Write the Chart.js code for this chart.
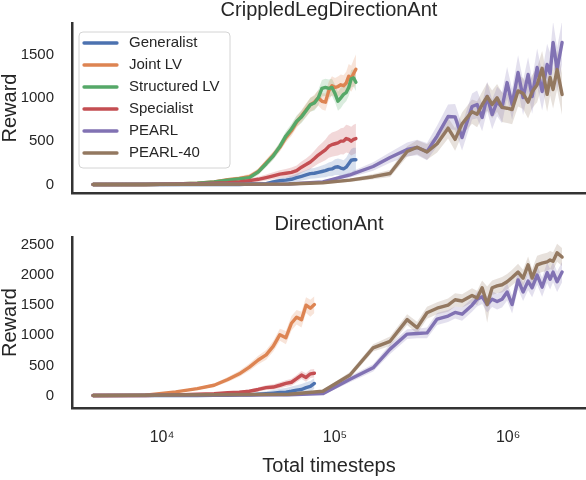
<!DOCTYPE html>
<html>
<head>
<meta charset="utf-8">
<script src="https://cdn.jsdelivr.net/npm/chart.js@4.4.1/dist/chart.umd.min.js"></script>
<style>
  html, body { margin: 0; padding: 0; background: #fff; }
  #wrap { position: relative; width: 586px; height: 480px; }
  canvas { position: absolute; left: 0; }
  #crippled { top: 0; }
  #direction { top: 205px; }
</style>
</head>
<body>
<div id="wrap">
  <canvas id="crippled" width="586" height="205"></canvas>
  <canvas id="direction" width="586" height="275"></canvas>
</div>
<script>
// series names + seaborn "deep" colours
const seriesNames = ["Generalist", "Joint LV", "Structured LV", "Specialist", "PEARL", "PEARL-40"];
const seriesColors = ["#4C72B0", "#DD8452", "#55A868", "#C44E52", "#8172B3", "#937860"];

const xTicks = [1e4, 1e5, 1e6];
const yTicksCrippled = [0, 500, 1000, 1500];
const yTicksDirection = [0, 500, 1000, 1500, 2000, 2500];

// timesteps for the fast methods (Generalist / Joint LV / Structured LV / Specialist)
const stepsFast = [4000, 8000, 12000, 16000, 20000, 24000, 28000, 32000, 36000, 40000, 44000,
  48000, 52000, 56000, 60000, 64000, 68000, 72000, 76000, 80000, 84000, 88000, 92000, 96000,
  100000, 104000, 108000, 112000, 116000, 120000, 124000, 128000, 132000];
const stepsFastDir = [4000, 8000, 12000, 16000, 20000, 24000, 28000, 32000, 36000, 40000, 44000,
  48000, 52000, 56000, 60000, 64000, 68000, 72000, 76000];
// timesteps for PEARL runs
const stepsPearl = [4000, 54000, 85000, 122000, 166000, 208000, 261000, 298000, 340000, 389000,
  450000, 494000, 542000, 619000, 662000, 708000, 757000, 809000, 864000, 923000, 987000,
  1055000, 1142000, 1221000, 1305000, 1377000, 1472000, 1573000, 1681000, 1749000, 1820000,
  1920000, 2052000];

// CrippledLegDirectionAnt: mean reward and half-width of the shaded band
const genCrip = [0, 0, 0, 0, 0, 0, 0, 5, 5, 10, 30, 45, 50, 60, 80, 95, 110, 125, 130, 140, 150, 160, 175, 180, 200, 205, 190, 180, 200, 240, 280, 285, 285];
const genCripSd = [0, 0, 0, 0, 0, 0, 5, 10, 15, 20, 25, 30, 35, 40, 45, 50, 55, 60, 60, 65, 70, 75, 80, 85, 90, 95, 100, 100, 110, 120, 130, 140, 140];
const jointCrip = [0, 0, 5, 15, 30, 55, 70, 90, 150, 250, 340, 430, 540, 620, 720, 790, 860, 920, 950, 1000, 960, 950, 1080, 1140, 1120, 1130, 1150, 1140, 1170, 1250, 1220, 1280, 1330];
const jointCripSd = [0, 0, 5, 10, 15, 20, 25, 30, 35, 40, 45, 50, 55, 60, 65, 70, 75, 80, 85, 90, 95, 100, 105, 110, 110, 115, 120, 120, 130, 140, 150, 160, 170];
const structCrip = [0, 0, 5, 15, 30, 50, 65, 80, 145, 240, 330, 440, 560, 640, 730, 780, 850, 920, 940, 1000, 1110, 1120, 1110, 1120, 1050, 960, 1000, 1040, 1060, 1120, 1220, 1230, 1180];
const structCripSd = [0, 0, 5, 10, 15, 20, 25, 30, 35, 40, 45, 50, 55, 60, 65, 70, 75, 80, 85, 90, 95, 100, 100, 100, 100, 110, 120, 110, 100, 100, 100, 100, 100];
const specCrip = [0, 0, 5, 10, 15, 20, 30, 45, 60, 80, 100, 120, 130, 140, 160, 200, 230, 260, 300, 340, 370, 400, 440, 460, 470, 480, 500, 500, 530, 520, 500, 520, 530];
const specCripSd = [0, 0, 5, 10, 10, 15, 20, 25, 30, 35, 40, 45, 50, 55, 60, 65, 70, 80, 90, 100, 110, 120, 130, 140, 140, 145, 150, 155, 160, 160, 165, 170, 170];
const pearlCrip = [0, 5, 30, 110, 208, 311, 404, 427, 380, 560, 784, 780, 542, 900, 923, 773, 1015, 807, 957, 888, 1176, 923, 1292, 1003, 1269, 1015, 1350, 1073, 1384, 1280, 1638, 1330, 1638];
const pearlCripSd = [0, 5, 10, 30, 50, 60, 80, 90, 100, 120, 140, 150, 150, 150, 160, 160, 170, 170, 170, 180, 180, 180, 200, 200, 200, 200, 220, 220, 240, 240, 240, 250, 250];
const pearl40Crip = [0, 5, 20, 50, 90, 127, 380, 430, 375, 470, 650, 520, 700, 840, 810, 920, 1015, 923, 1000, 890, 880, 865, 1080, 1050, 950, 1070, 1150, 1340, 1040, 1234, 1096, 1326, 1038];
const pearl40CripSd = [0, 5, 10, 20, 30, 40, 60, 80, 90, 100, 120, 130, 130, 140, 150, 150, 160, 160, 160, 170, 170, 170, 180, 180, 190, 190, 200, 200, 200, 210, 220, 230, 240];

// DirectionAnt
const genDir = [0, 0, 0, 0, 5, 5, 10, 10, 20, 30, 40, 50, 55, 70, 90, 100, 130, 150, 200];
const genDirSd = [0, 0, 5, 10, 15, 20, 25, 30, 35, 40, 50, 60, 70, 80, 80, 90, 90, 90, 90];
const jointDir = [0, 5, 60, 115, 170, 265, 360, 470, 590, 675, 820, 1010, 960, 1200, 1300, 1260, 1500, 1450, 1510];
const jointDirSd = [0, 5, 10, 20, 30, 40, 50, 60, 70, 80, 90, 100, 110, 120, 120, 130, 130, 140, 140];
const specDir = [0, 0, 10, 20, 30, 45, 55, 70, 100, 130, 140, 170, 200, 220, 280, 340, 300, 360, 370];
const specDirSd = [0, 0, 5, 10, 15, 20, 25, 30, 35, 40, 45, 50, 55, 60, 60, 65, 70, 70, 70];
const pearlDir = [0, 10, 30, 270, 460, 770, 1020, 1030, 1040, 1270, 1320, 1380, 1350, 1500, 1600, 1640, 1510, 1600, 1560, 1600, 1720, 1510, 1920, 1720, 1900, 1790, 2000, 1800, 2040, 1930, 2050, 1890, 2050];
const pearlDirSd = [0, 10, 20, 50, 60, 80, 80, 80, 90, 100, 100, 100, 110, 110, 120, 120, 130, 130, 130, 140, 140, 150, 150, 150, 150, 160, 160, 160, 170, 170, 170, 170, 170];
const pearl40Dir = [0, 20, 70, 340, 790, 900, 1260, 1125, 1375, 1450, 1500, 1590, 1570, 1660, 1620, 1790, 1510, 1790, 1820, 1840, 1890, 1960, 2050, 1950, 2170, 1950, 2170, 2200, 2220, 2250, 2230, 2370, 2300];
const pearl40DirSd = [0, 10, 20, 50, 60, 80, 90, 100, 100, 100, 110, 110, 110, 120, 120, 120, 300, 120, 120, 130, 130, 130, 140, 140, 140, 150, 150, 150, 150, 150, 150, 150, 150];

const FONT = '"Liberation Sans", Arial, sans-serif';
const TEXT = '#262626';
const SPINE = '#333333';
const sup = { 4: '\u2074', 5: '\u2075', 6: '\u2076' };

Chart.defaults.font.family = FONT;
Chart.defaults.color = TEXT;

// one series = lower band edge, upper band edge (filled to lower), mean line
function series(rank, steps, mean, sd) {
  const color = seriesColors[rank];
  return [
    {
      label: seriesNames[rank] + ' lo',
      data: steps.map((x, i) => ({ x: x, y: mean[i] - sd[i] })),
      borderColor: 'transparent', borderWidth: 0, pointRadius: 0, fill: false,
      order: 20 + rank
    },
    {
      label: seriesNames[rank] + ' hi',
      data: steps.map((x, i) => ({ x: x, y: mean[i] + sd[i] })),
      borderColor: 'transparent', borderWidth: 0, pointRadius: 0,
      fill: '-1', backgroundColor: color + '38',
      order: 20 + rank
    },
    {
      label: seriesNames[rank],
      data: steps.map((x, i) => ({ x: x, y: mean[i] })),
      borderColor: color, borderWidth: 3.4, pointRadius: 0, fill: false,
      borderJoinStyle: 'round', borderCapStyle: 'round',
      order: 10 - rank
    }
  ];
}

// legend drawn in a framed box like matplotlib's
const legendBox = {
  id: 'legendBox',
  afterDatasetsDraw(chart, args, opts) {
    if (!opts.show) return;
    const { ctx, chartArea } = chart;
    const x = chartArea.left + 7, y = chartArea.top + 9, w = 151, h = 136;
    ctx.save();
    ctx.beginPath();
    ctx.roundRect(x, y, w, h, 4);
    ctx.fillStyle = 'rgba(255,255,255,0.8)';
    ctx.fill();
    ctx.strokeStyle = '#d4d4d4';
    ctx.lineWidth = 1;
    ctx.stroke();
    ctx.font = '15px ' + FONT;
    ctx.textBaseline = 'middle';
    seriesNames.forEach((name, i) => {
      const cy = y + 11 + i * 22;
      ctx.strokeStyle = seriesColors[i];
      ctx.lineWidth = 3.3;
      ctx.lineCap = 'round';
      ctx.beginPath();
      ctx.moveTo(x + 5, cy);
      ctx.lineTo(x + 38, cy);
      ctx.stroke();
      ctx.fillStyle = TEXT;
      ctx.fillText(name, x + 50, cy);
    });
    ctx.restore();
  }
};

// invisible tick marks give the label gap without padding the chart area
const hiddenTicks = { display: true, drawOnChartArea: false, drawTicks: true, color: 'rgba(0,0,0,0)' };

function makePanel(canvasId, title, titleTop, datasets, yMin, yMax, yTicks, showX, showLegend) {
  return new Chart(document.getElementById(canvasId), {
    type: 'line',
    data: { datasets: datasets },
    plugins: [legendBox],
    options: {
      responsive: false,
      animation: false,
      events: [],
      layout: { padding: 0 },
      plugins: {
        legend: { display: false },
        tooltip: { enabled: false },
        legendBox: { show: showLegend },
        title: {
          display: true,
          text: title,
          fullSize: false,
          color: TEXT,
          font: { size: 20, weight: 'normal', lineHeight: 1 },
          padding: { top: titleTop, bottom: 3 }
        }
      },
      scales: {
        x: {
          type: 'logarithmic',
          min: 3020,
          max: 2820000,
          afterBuildTicks: s => { s.ticks = xTicks.map(v => ({ value: v })); },
          afterFit: s => { s.height = showX ? 72 : 12; },
          grid: Object.assign({ tickLength: 20 }, hiddenTicks),
          border: { display: true, color: SPINE, width: 2.5 },
          ticks: {
            display: showX,
            padding: 0,
            color: TEXT,
            font: { size: 16 },
            maxRotation: 0,
            callback: v => '10' + sup[Math.round(Math.log10(v))]
          },
          title: {
            display: showX,
            text: 'Total timesteps',
            color: TEXT,
            font: { size: 20, lineHeight: 1.2 },
            padding: { top: 0, bottom: 2 }
          }
        },
        y: {
          min: yMin,
          max: yMax,
          afterBuildTicks: s => { s.ticks = yTicks.map(v => ({ value: v })); },
          afterFit: s => { s.width = 72; },
          grid: Object.assign({ tickLength: 18 }, hiddenTicks),
          border: { display: true, color: SPINE, width: 2.5 },
          ticks: { padding: 0, color: TEXT, font: { size: 15 }, callback: v => String(v) },
          title: {
            display: true,
            text: 'Reward',
            color: TEXT,
            font: { size: 20, lineHeight: 1 },
            padding: { top: 0, bottom: 0 }
          }
        }
      }
    }
  });
}

const crippledSets = [].concat(
  series(0, stepsFast, genCrip, genCripSd),
  series(1, stepsFast, jointCrip, jointCripSd),
  series(2, stepsFast, structCrip, structCripSd),
  series(3, stepsFast, specCrip, specCripSd),
  series(4, stepsPearl, pearlCrip, pearlCripSd),
  series(5, stepsPearl, pearl40Crip, pearl40CripSd)
);

const directionSets = [].concat(
  series(0, stepsFastDir, genDir, genDirSd),
  series(1, stepsFastDir, jointDir, jointDirSd),
  series(3, stepsFastDir, specDir, specDirSd),
  series(4, stepsPearl, pearlDir, pearlDirSd),
  series(5, stepsPearl, pearl40Dir, pearl40DirSd)
);

makePanel('crippled', 'CrippledLegDirectionAnt', 0, crippledSets, -98, 1863, yTicksCrippled, false, true);
makePanel('direction', 'DirectionAnt', 9, directionSets, -208, 2633, yTicksDirection, true, false);
</script>
</body>
</html>
